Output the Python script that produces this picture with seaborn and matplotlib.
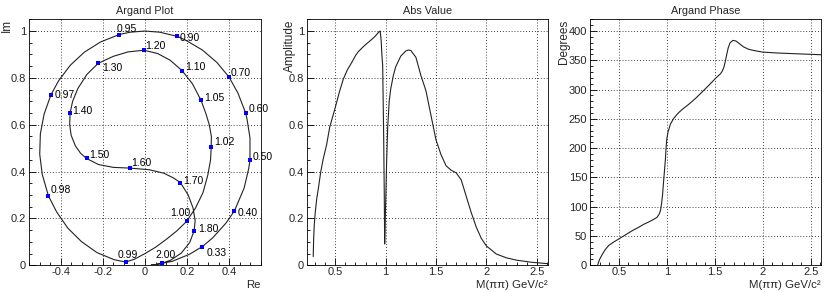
import matplotlib
matplotlib.use("Agg")
import matplotlib.pyplot as plt
from matplotlib.ticker import MultipleLocator, FuncFormatter
import pandas as pd
import seaborn as sns

# Argand plot: path of the amplitude in the complex plane (in mass order)
argand_re = [0.030, 0.044, 0.129, 0.211, 0.272, 0.321, 0.383, 0.424, 0.470, 0.492,
             0.498, 0.498, 0.483, 0.477, 0.441, 0.399, 0.341, 0.272, 0.195, 0.154,
             0.070, 0.000, -0.070, -0.122, -0.211, -0.287, -0.354, -0.410, -0.446, -0.478,
             -0.496, -0.499, -0.487, -0.458, -0.419, -0.366, -0.301, -0.227, -0.146, -0.092,
             -0.050, 0.000, 0.050, 0.100, 0.150, 0.197, 0.240, 0.275, 0.298, 0.311,
             0.314, 0.315, 0.305, 0.288, 0.266, 0.225, 0.176, 0.120, 0.060, -0.005,
             -0.080, -0.150, -0.222, -0.275, -0.318, -0.343, -0.355, -0.357, -0.350, -0.330,
             -0.305, -0.277, -0.220, -0.150, -0.072, 0.020, 0.090, 0.135, 0.168, 0.205,
             0.228, 0.238, 0.233, 0.212, 0.172, 0.122, 0.081, 0.050, 0.030]
argand_im = [0.001, 0.002, 0.017, 0.047, 0.080, 0.117, 0.179, 0.232, 0.329, 0.413,
             0.448, 0.544, 0.629, 0.651, 0.735, 0.803, 0.866, 0.919, 0.960, 0.977,
             0.995, 1.000, 0.995, 0.985, 0.953, 0.910, 0.854, 0.787, 0.727, 0.646,
             0.561, 0.474, 0.388, 0.297, 0.228, 0.159, 0.101, 0.054, 0.024, 0.014,
             0.026, 0.050, 0.077, 0.110, 0.146, 0.187, 0.245, 0.310, 0.385, 0.450,
             0.504, 0.550, 0.600, 0.650, 0.704, 0.775, 0.831, 0.875, 0.904, 0.918,
             0.911, 0.892, 0.862, 0.815, 0.755, 0.700, 0.650, 0.600, 0.555, 0.510,
             0.478, 0.456, 0.430, 0.418, 0.415, 0.408, 0.393, 0.373, 0.353, 0.300,
             0.245, 0.190, 0.147, 0.097, 0.052, 0.022, 0.009, 0.003, 0.001]

# marked masses along the Argand path
label_text = ["0.33", "0.40", "0.50", "0.60", "0.70", "0.90", "0.95", "0.97", "0.98", "0.99",
              "1.00", "1.02", "1.05", "1.10", "1.20", "1.30", "1.40", "1.50", "1.60", "1.70",
              "1.80", "2.00"]
label_re = [0.272, 0.424, 0.498, 0.477, 0.399, 0.154, -0.122, -0.446, -0.458, -0.092,
            0.197, 0.314, 0.266, 0.176, -0.005, -0.222, -0.355, -0.277, -0.072, 0.168,
            0.233, 0.081]
label_im = [0.080, 0.232, 0.448, 0.651, 0.803, 0.977, 0.985, 0.727, 0.297, 0.014,
            0.187, 0.504, 0.704, 0.831, 0.918, 0.862, 0.650, 0.456, 0.415, 0.353,
            0.147, 0.009]
# text offsets (pixels) for each marker label
label_dx = [4, 3, 3, 3, 2, 2, -3, 4, 2, -8, -16, 3, 3, 3, 1, 4, 2, 3, 1, 3, 4, -7]
label_dy = [-9, -5, 0, 1, 1, -5, 3, -3, 3, 4, 5, 2, -1, 1, 1, -8, -1, 0, 2, -1, -1, 5]

# Abs value vs M(pipi)
abs_mass = [0.280, 0.284, 0.290, 0.300, 0.315, 0.330, 0.355, 0.380, 0.413, 0.444,
            0.500, 0.540, 0.579, 0.620, 0.662, 0.700, 0.728, 0.770, 0.811, 0.850,
            0.894, 0.930, 0.945, 0.955, 0.962, 0.970, 0.980, 0.986, 0.990, 0.995,
            1.000, 1.010, 1.020, 1.035, 1.050, 1.076, 1.100, 1.150, 1.200, 1.225,
            1.250, 1.300, 1.350, 1.400, 1.450, 1.500, 1.550, 1.600, 1.650, 1.700,
            1.750, 1.800, 1.850, 1.900, 1.950, 2.000, 2.100, 2.200, 2.300, 2.450,
            2.610]
abs_amp = [0.037, 0.110, 0.170, 0.225, 0.285, 0.325, 0.400, 0.455, 0.515, 0.590,
           0.675, 0.740, 0.795, 0.835, 0.865, 0.895, 0.912, 0.930, 0.946, 0.960,
           0.977, 0.995, 1.000, 0.960, 0.900, 0.853, 0.549, 0.300, 0.091, 0.180,
           0.270, 0.450, 0.590, 0.700, 0.753, 0.810, 0.848, 0.893, 0.915, 0.919,
           0.917, 0.888, 0.810, 0.745, 0.640, 0.535, 0.472, 0.425, 0.406, 0.395,
           0.365, 0.295, 0.225, 0.163, 0.115, 0.083, 0.048, 0.032, 0.022, 0.013,
           0.007]

# Argand phase vs M(pipi)
phase_mass = [0.280, 0.285, 0.300, 0.326, 0.360, 0.396, 0.450, 0.500, 0.550, 0.604,
              0.650, 0.708, 0.760, 0.812, 0.860, 0.899, 0.920, 0.934, 0.945, 0.955,
              0.969, 0.978, 0.986, 0.993, 1.000, 1.014, 1.038, 1.073, 1.120, 1.160,
              1.230, 1.300, 1.350, 1.406, 1.460, 1.510, 1.560, 1.580, 1.595, 1.610,
              1.625, 1.640, 1.660, 1.690, 1.720, 1.760, 1.800, 1.850, 1.900, 2.000,
              2.150, 2.300, 2.450, 2.610]
phase_deg = [0, 3, 10, 18, 27, 34, 40, 45, 50, 55.5,
             60, 65, 70, 74, 78, 82, 87, 93, 104, 118,
             147, 165, 181, 200, 215, 228, 241, 251, 260, 266,
             275, 285, 293, 302, 311, 319.5, 327, 332, 338, 348,
             360, 371, 380, 384, 383, 378, 373, 369, 367, 364,
             362.5, 361.5, 360.5, 359.5]

sns.set_style("ticks")
plt.rcParams["font.family"] = ["Liberation Sans", "DejaVu Sans"]
plt.rcParams["axes.unicode_minus"] = False

LINE = "#222222"
fmt = FuncFormatter(lambda v, p: f"{v:g}")


def root_style(ax, xmaj, xmin, ymaj, ymin):
    ax.xaxis.set_major_locator(MultipleLocator(xmaj))
    ax.xaxis.set_minor_locator(MultipleLocator(xmin))
    ax.yaxis.set_major_locator(MultipleLocator(ymaj))
    ax.yaxis.set_minor_locator(MultipleLocator(ymin))
    ax.xaxis.set_major_formatter(fmt)
    ax.yaxis.set_major_formatter(fmt)
    ax.tick_params(which="both", direction="in", top=False, right=False,
                   labelsize=8, width=0.6, color="black", pad=2)
    ax.tick_params(axis="x", pad=1.5)
    ax.tick_params(which="major", length=5)
    ax.tick_params(which="minor", length=2.5)
    ax.grid(True, which="major", color="black", linestyle=(0, (1, 2.5)), linewidth=0.6)
    for s in ax.spines.values():
        s.set_linewidth(0.6)
        s.set_color("black")


def root_labels(ax, title, xlabel, ylabel, xlab_y, ylab_x):
    ax.set_title(title, fontsize=7.8, pad=4)
    ax.set_xlabel(xlabel, fontsize=8.2, loc="right")
    ax.set_ylabel(ylabel, fontsize=8.5, loc="top")
    ax.xaxis.set_label_coords(1.0, xlab_y)
    ax.yaxis.set_label_coords(ylab_x, 1.0)


fig = plt.figure(figsize=(8.3, 2.93), dpi=100)
ax1 = fig.add_axes([0.0349, 0.0945, 0.2795, 0.8396])
ax2 = fig.add_axes([0.3695, 0.0945, 0.2904, 0.8396])
ax3 = fig.add_axes([0.7108, 0.0945, 0.2780, 0.8396])

# Argand plot
argand = pd.DataFrame({"Re": argand_re, "Im": argand_im})
sns.lineplot(data=argand, x="Re", y="Im", sort=False, estimator=None,
             color=LINE, linewidth=0.8, ax=ax1)
marks = pd.DataFrame({"Re": label_re, "Im": label_im, "m": label_text})
sns.scatterplot(data=marks, x="Re", y="Im", marker="s", s=10, color="#0000ff",
                linewidth=0, ax=ax1, zorder=5)
for txt, x, y, dx, dy in zip(label_text, label_re, label_im, label_dx, label_dy):
    ax1.annotate(txt, (x, y), xytext=(dx, dy), textcoords="offset pixels",
                 fontsize=7.5, ha="left", va="baseline", color="black")
ax1.set_xlim(-0.55, 0.55)
ax1.set_ylim(0, 1.05)
root_style(ax1, 0.2, 0.05, 0.2, 0.05)
root_labels(ax1, "Argand Plot", "Re", "Im", -0.06, -0.07)

# Abs value
absdf = pd.DataFrame({"m": abs_mass, "amp": abs_amp})
sns.lineplot(data=absdf, x="m", y="amp", sort=False, estimator=None,
             color=LINE, linewidth=0.8, ax=ax2)
ax2.set_xlim(0.215, 2.61)
ax2.set_ylim(0, 1.05)
root_style(ax2, 0.5, 0.1, 0.2, 0.05)
root_labels(ax2, "Abs Value", "M(ππ) GeV/c²", "Amplitude", -0.058, -0.045)

# Argand phase
phdf = pd.DataFrame({"m": phase_mass, "deg": phase_deg})
sns.lineplot(data=phdf, x="m", y="deg", sort=False, estimator=None,
             color=LINE, linewidth=0.8, ax=ax3)
ax3.set_xlim(0.2, 2.604)
ax3.set_ylim(0, 420)
root_style(ax3, 0.5, 0.1, 50, 10)
root_labels(ax3, "Argand Phase", "M(ππ) GeV/c²", "Degrees", -0.058, -0.085)

fig.savefig("out.png", dpi=100)
